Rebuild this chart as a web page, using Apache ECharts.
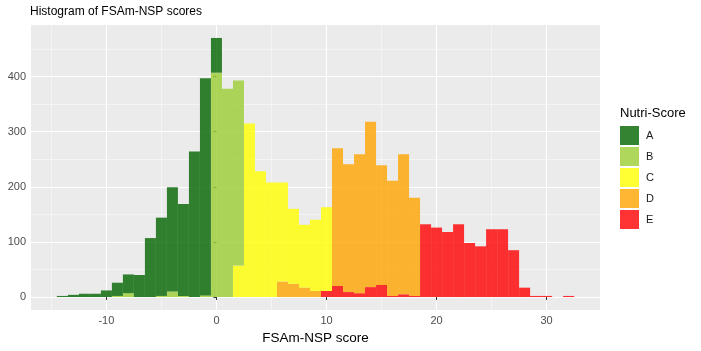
<!DOCTYPE html>
<html>
<head>
<meta charset="utf-8">
<script src="https://cdn.jsdelivr.net/npm/echarts@6/dist/echarts.min.js"></script>
<style>
  html, body { margin: 0; padding: 0; background: #ffffff; }
  #chart { width: 701px; height: 351px; }
</style>
</head>
<body>
<div id="chart"></div>
<script>
// Bin centres (width 1) of FSAm-NSP score
const bins = [-14,-13,-12,-11,-10,-9,-8,-7,-6,-5,-4,-3,-2,-1,0,1,2,3,4,5,6,7,8,9,10,11,12,13,14,15,16,17,18,19,20,21,22,23,24,25,26,27,28,29,30,31,32];
// Counts per Nutri-Score class in each bin
const countsA = [2,4,6,6,12,24,34,40,107,142,189,167,264,394,63,0,0,0,0,0,0,0,0,0,0,0,0,0,0,0,0,0,0,0,0,0,0,0,0,0,0,0,0,0,0,0,0];
const countsB = [0,0,0,0,0,2,7,0,0,2,10,2,0,3,407,378,336,0,0,0,0,0,0,0,0,0,0,0,0,0,0,0,0,0,0,0,0,0,0,0,0,0,0,0,0,0,0];
const countsC = [0,0,0,0,0,0,0,0,0,0,0,0,0,0,0,0,57,315,228,208,180,136,114,129,152,0,0,0,0,0,0,0,0,0,0,0,0,0,0,0,0,0,0,0,0,0,0];
const countsD = [0,0,0,0,0,0,0,0,0,0,0,0,0,0,0,0,0,0,0,0,28,24,17,11,0,250,232,252,300,217,209,254,178,0,0,0,0,0,0,0,0,0,0,0,0,0,0];
const countsE = [0,0,0,0,0,0,0,0,0,0,0,0,0,0,0,0,0,0,0,0,0,0,0,0,11,20,9,7,18,22,2,5,2,132,126,118,132,98,92,123,123,85,17,2,2,0,2];
const classes = ['A','B','C','D','E'];
const xTicks = [-10,0,10,20,30];
const xMinor = [-15,-5,5,15,25];
const yTicks = [0,100,200,300,400];
const yMinor = [50,150,250,350,450];

const colors = {
  A: 'rgba(0,100,0,0.8)',
  B: 'rgba(154,205,50,0.8)',
  C: 'rgba(255,255,0,0.8)',
  D: 'rgba(255,165,0,0.8)',
  E: 'rgba(255,0,0,0.8)'
};
const countsBy = { A: countsA, B: countsB, C: countsC, D: countsD, E: countsE };

const xMin = -16.85, xMax = 34.85;
const yMin = -23.5, yMax = 493.5;
const W = 701;
const gridLeft = 31, gridRight = 101, gridTop = 25, gridBottom = 41;
const plotW = W - gridLeft - gridRight;
const pxPerUnit = plotW / (xMax - xMin);
// bar grid covers exactly the bins' extent (first bin left edge .. last bin right edge)
const barLeft = gridLeft + (bins[0] - 0.5 - xMin) * pxPerUnit;
const barRightEdge = gridLeft + (bins[bins.length - 1] + 0.5 - xMin) * pxPerUnit;
const barRight = W - barRightEdge;

const font = "'Liberation Sans', Arial, sans-serif";

// stacked: E at the bottom, A on top (ggplot stacking order)
const series = ['E','D','C','B','A'].map(k => ({
  name: k,
  type: 'bar',
  stack: 'total',
  xAxisIndex: 2,
  yAxisIndex: 2,
  barCategoryGap: '0%',
  itemStyle: { color: colors[k] },
  emphasis: { disabled: true },
  data: countsBy[k]
}));

const chart = echarts.init(document.getElementById('chart'), null, { renderer: 'canvas' });
chart.setOption({
  animation: false,
  backgroundColor: '#ffffff',
  textStyle: { fontFamily: font },
  title: [
    { text: 'Histogram of FSAm-NSP scores', left: 30, top: 6, padding: 0,
      textStyle: { fontFamily: font, fontSize: 12, fontWeight: 'normal', color: '#000' } },
    { text: 'Nutri-Score', left: 620, top: 107, padding: 0,
      textStyle: { fontFamily: font, fontSize: 13, fontWeight: 'normal', color: '#000' } }
  ],
  legend: {
    data: classes,
    orient: 'vertical',
    left: 620, top: 126, padding: 0,
    itemWidth: 19, itemHeight: 19, itemGap: 2,
    icon: 'rect',
    selectedMode: false,
    textStyle: { fontFamily: font, fontSize: 11, color: '#1a1a1a', padding: [0,0,0,2] }
  },
  grid: [
    { left: gridLeft, right: gridRight, top: gridTop, bottom: gridBottom,
      show: true, backgroundColor: '#ebebeb', borderWidth: 0, containLabel: false },
    { left: barLeft, right: barRight, top: gridTop, bottom: gridBottom,
      show: false, containLabel: false }
  ],
  xAxis: [
    { type: 'value', gridIndex: 0, min: xMin, max: xMax,
      name: 'FSAm-NSP score', nameLocation: 'middle', nameGap: 20,
      nameTextStyle: { fontFamily: font, fontSize: 13.5, color: '#000' },
      axisLine: { show: false },
      axisTick: { show: true, length: 3, lineStyle: { color: '#333', width: 1 }, customValues: xTicks },
      axisLabel: { margin: 5, fontSize: 11, color: '#4d4d4d', fontFamily: font, customValues: xTicks },
      splitLine: { show: true, lineStyle: { color: '#ffffff', width: 1.1 } } },
    { type: 'value', gridIndex: 0, min: xMin, max: xMax, position: 'bottom',
      axisLine: { show: false },
      axisTick: { show: false, customValues: xMinor },
      axisLabel: { show: false, customValues: xMinor },
      splitLine: { show: true, lineStyle: { color: 'rgba(255,255,255,0.75)', width: 0.6 } } },
    { type: 'category', gridIndex: 1, data: bins, boundaryGap: true, show: false }
  ],
  yAxis: [
    { type: 'value', gridIndex: 0, min: yMin, max: yMax,
      axisLine: { show: false },
      axisTick: { show: true, length: 3, lineStyle: { color: '#333', width: 1 }, customValues: yTicks },
      axisLabel: { margin: 5, fontSize: 11, color: '#4d4d4d', fontFamily: font, customValues: yTicks },
      splitLine: { show: true, lineStyle: { color: '#ffffff', width: 1.1 } } },
    { type: 'value', gridIndex: 0, min: yMin, max: yMax, position: 'left',
      axisLine: { show: false },
      axisTick: { show: false, customValues: yMinor },
      axisLabel: { show: false, customValues: yMinor },
      splitLine: { show: true, lineStyle: { color: 'rgba(255,255,255,0.75)', width: 0.6 } } },
    { type: 'value', gridIndex: 1, min: yMin, max: yMax, show: false, splitLine: { show: false } }
  ],
  series: series
});
</script>
</body>
</html>
